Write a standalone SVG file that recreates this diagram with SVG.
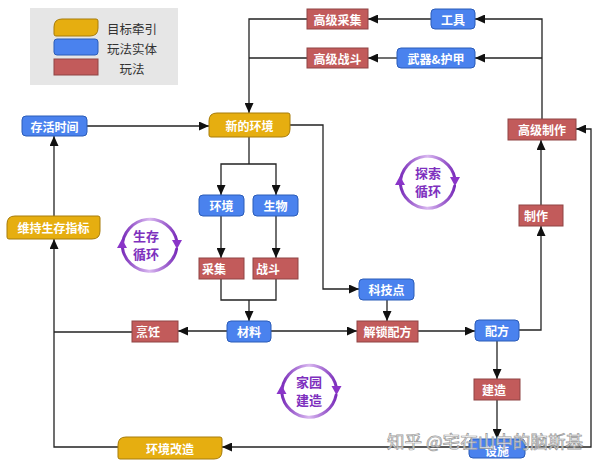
<svg xmlns="http://www.w3.org/2000/svg" width="600" height="464" viewBox="0 0 600 464">
<defs>
<style>
.blue{fill:#4A82EE;stroke:#2B5CB8;stroke-width:1}
.red{fill:#C25B5B;stroke:#8F4545;stroke-width:1}
.yel{fill:#E6AE10;stroke:#A77C0A;stroke-width:1}
.lbl{font-family:"Noto Sans CJK SC","Noto Sans",sans-serif;font-size:12px;font-weight:bold;fill:#fff;text-anchor:middle;dominant-baseline:central}
.leg{font-family:"Noto Sans CJK SC","Noto Sans",sans-serif;font-size:12.5px;fill:#333;text-anchor:middle;dominant-baseline:central}
.cyc{font-family:"Noto Sans CJK SC","Noto Sans",sans-serif;font-size:13px;font-weight:bold;fill:#7E30BE;text-anchor:middle;dominant-baseline:central}
.ln{fill:none;stroke:#222;stroke-width:1.3}
.arc{fill:none;stroke-width:3;stroke-linecap:round}
.ah{fill:#8A35C8}
</style>
<marker id="arr" markerUnits="userSpaceOnUse" markerWidth="10" markerHeight="9" refX="10" refY="4.5" orient="auto">
<path d="M0,0 L10,4.5 L0,9 z" fill="#111"/>
</marker>
<linearGradient id="pg" x1="0" y1="0" x2="1" y2="0">
<stop offset="0" stop-color="#7A2DBA"/>
<stop offset="0.5" stop-color="#D9B8F0"/>
<stop offset="1" stop-color="#7A2DBA"/>
</linearGradient>
</defs>
<rect width="600" height="464" fill="#fff"/>

<g id="legend">
<rect x="30" y="8" width="148" height="77" fill="#E6E6E6"/>
<path class="yel" d="M62,19 H96 Q98,19 98,21 V28 Q98,36 90,36 H56 Q54,36 54,34 V27 Q54,19 62,19 z"/>
<rect class="blue" x="54" y="39" width="44" height="16" rx="3"/>
<rect class="red" x="54" y="59" width="44" height="16"/>
<text class="leg" x="132" y="28">目标牵引</text>
<text class="leg" x="132" y="48">玩法实体</text>
<text class="leg" x="132" y="68">玩法</text>
</g>

<g id="connectors">
<path class="ln" d="M431,19 H368" marker-end="url(#arr)"/>
<path class="ln" d="M397,58 H368" marker-end="url(#arr)"/>
<path class="ln" d="M542,119 V19 H475" marker-end="url(#arr)"/>
<path class="ln" d="M542,58 H475" marker-end="url(#arr)"/>
<path class="ln" d="M307,19 H249 V113" marker-end="url(#arr)"/>
<path class="ln" d="M307,58 H249"/>
<path class="ln" d="M87,126 H209" marker-end="url(#arr)"/>
<path class="ln" d="M249,137 V164"/>
<path class="ln" d="M249,164 H221 V195" marker-end="url(#arr)"/>
<path class="ln" d="M249,164 H276 V195" marker-end="url(#arr)"/>
<path class="ln" d="M221,216 V258" marker-end="url(#arr)"/>
<path class="ln" d="M276,216 V258" marker-end="url(#arr)"/>
<path class="ln" d="M221,279 V300 H276 V279"/>
<path class="ln" d="M249,300 V321" marker-end="url(#arr)"/>
<path class="ln" d="M290,125 H323 V289 H359" marker-end="url(#arr)"/>
<path class="ln" d="M387,300 V321" marker-end="url(#arr)"/>
<path class="ln" d="M271,331 H357" marker-end="url(#arr)"/>
<path class="ln" d="M227,331 H178" marker-end="url(#arr)"/>
<path class="ln" d="M132,332 H54"/>
<path class="ln" d="M118,447 H54 V239" marker-end="url(#arr)"/>
<path class="ln" d="M54,216 V136" marker-end="url(#arr)"/>
<path class="ln" d="M418,331 H475" marker-end="url(#arr)"/>
<path class="ln" d="M519,330 H541 V226" marker-end="url(#arr)"/>
<path class="ln" d="M541,205 V140" marker-end="url(#arr)"/>
<path class="ln" d="M497,341 V379" marker-end="url(#arr)"/>
<path class="ln" d="M497,400 V439" marker-end="url(#arr)"/>
<path class="ln" d="M469,447 H222" marker-end="url(#arr)"/>
<path class="ln" d="M525,447 H591 V129 H576" marker-end="url(#arr)"/>
</g>

<g id="n-gaojicaiji"><rect class="red" x="307" y="9" width="61" height="20"/><text class="lbl" x="337.5" y="19">高级采集</text></g>
<g id="n-gongju"><rect class="blue" x="431" y="9" width="44" height="20" rx="4"/><text class="lbl" x="453" y="19">工具</text></g>
<g id="n-gaojizhandou"><rect class="red" x="307" y="48" width="61" height="20"/><text class="lbl" x="337.5" y="58">高级战斗</text></g>
<g id="n-wuqi"><rect class="blue" x="397" y="48" width="78" height="20" rx="4"/><text class="lbl" x="436" y="58">武器&amp;护甲</text></g>
<g id="n-gaojizhizuo"><rect class="red" x="508" y="119" width="68" height="21"/><text class="lbl" x="542" y="129.5">高级制作</text></g>
<g id="n-cunhuoshijian"><rect class="blue" x="22" y="116" width="65" height="20" rx="4"/><text class="lbl" x="54.5" y="126">存活时间</text></g>
<g id="n-xindehuanjing"><path class="yel" d="M217,113 H288 Q290,113 290,115 V129 Q290,137 282,137 H211 Q209,137 209,135 V121 Q209,113 217,113 z"/><text class="lbl" x="249.5" y="125">新的环境</text></g>
<g id="n-huanjing"><rect class="blue" x="199" y="195" width="45" height="21" rx="4"/><text class="lbl" x="221.5" y="205.5">环境</text></g>
<g id="n-shengwu"><rect class="blue" x="253" y="195" width="45" height="21" rx="4"/><text class="lbl" x="275.5" y="205.5">生物</text></g>
<g id="n-caiji"><rect class="red" x="199" y="258" width="45" height="21"/><text class="lbl" x="214" y="268.5">采集</text></g>
<g id="n-zhandou"><rect class="red" x="253" y="258" width="45" height="21"/><text class="lbl" x="268" y="268.5">战斗</text></g>
<g id="n-zhizuo"><rect class="red" x="519" y="205" width="44" height="21"/><text class="lbl" x="536" y="215.5">制作</text></g>
<g id="n-weichi"><path class="yel" d="M15,216 H98 Q100,216 100,218 V231 Q100,239 92,239 H9 Q7,239 7,237 V224 Q7,216 15,216 z"/><text class="lbl" x="53.5" y="227.5">维持生存指标</text></g>
<g id="n-kejidian"><rect class="blue" x="359" y="279" width="55" height="21" rx="4"/><text class="lbl" x="386.5" y="289.5">科技点</text></g>
<g id="n-pengren"><rect class="red" x="132" y="321" width="46" height="21"/><text class="lbl" x="148" y="331.5">烹饪</text></g>
<g id="n-cailiao"><rect class="blue" x="227" y="321" width="44" height="21" rx="4"/><text class="lbl" x="249" y="331.5">材料</text></g>
<g id="n-jiesuopeifang"><rect class="red" x="357" y="321" width="61" height="21"/><text class="lbl" x="387.5" y="331.5">解锁配方</text></g>
<g id="n-peifang"><rect class="blue" x="475" y="320" width="44" height="21" rx="4"/><text class="lbl" x="497" y="330.5">配方</text></g>
<g id="n-jianzao"><rect class="red" x="474" y="379" width="46" height="21"/><text class="lbl" x="494" y="389.5">建造</text></g>
<g id="n-sheshi"><rect class="blue" x="469" y="439" width="56" height="19" rx="4"/><text class="lbl" x="497" y="450">设施</text></g>
<g id="n-huanjinggaizao"><path class="yel" d="M126,437 H220 Q222,437 222,439 V451 Q222,459 214,459 H120 Q118,459 118,457 V445 Q118,437 126,437 z"/><text class="lbl" x="170" y="448">环境改造</text></g>

<g id="cycle-survival">
<path class="arc" stroke="url(#pg)" d="M122.4,247 A27.5,27.5 0 0 1 176.8,241"/>
<path class="ah" d="M172,240 L182,240 L177,249 z"/>
<path class="arc" stroke="url(#pg)" d="M176.6,249 A27.5,27.5 0 0 1 122.3,247"/>
<path class="ah" d="M117,248 L127,248 L122,239 z"/>
<text class="cyc" x="146" y="235">生存</text>
<text class="cyc" x="146" y="253">循环</text>
</g>
<g id="cycle-explore">
<path class="arc" stroke="url(#pg)" d="M400.4,184 A27.5,27.5 0 0 1 454.8,178"/>
<path class="ah" d="M450,177 L460,177 L455,186 z"/>
<path class="arc" stroke="url(#pg)" d="M454.6,186 A27.5,27.5 0 0 1 400.3,184"/>
<path class="ah" d="M395,185 L405,185 L400,176 z"/>
<text class="cyc" x="428" y="172">探索</text>
<text class="cyc" x="428" y="190">循环</text>
</g>
<g id="cycle-home">
<path class="arc" stroke="url(#pg)" d="M281.9,393 A27.5,27.5 0 0 1 336.3,387"/>
<path class="ah" d="M331.5,386 L341.5,386 L336.5,395 z"/>
<path class="arc" stroke="url(#pg)" d="M336.1,395 A27.5,27.5 0 0 1 281.8,393"/>
<path class="ah" d="M276.5,394 L286.5,394 L281.5,385 z"/>
<text class="cyc" x="309" y="381">家园</text>
<text class="cyc" x="309" y="399">建造</text>
</g>

<text x="387" y="440" textLength="196" lengthAdjust="spacingAndGlyphs" font-family="Noto Sans CJK SC, sans-serif" font-size="17" fill="#fff" fill-opacity="0.8" stroke="#999" stroke-width="0.7" dominant-baseline="central">知乎 @宅在山中的脑斯基</text>
</svg>
